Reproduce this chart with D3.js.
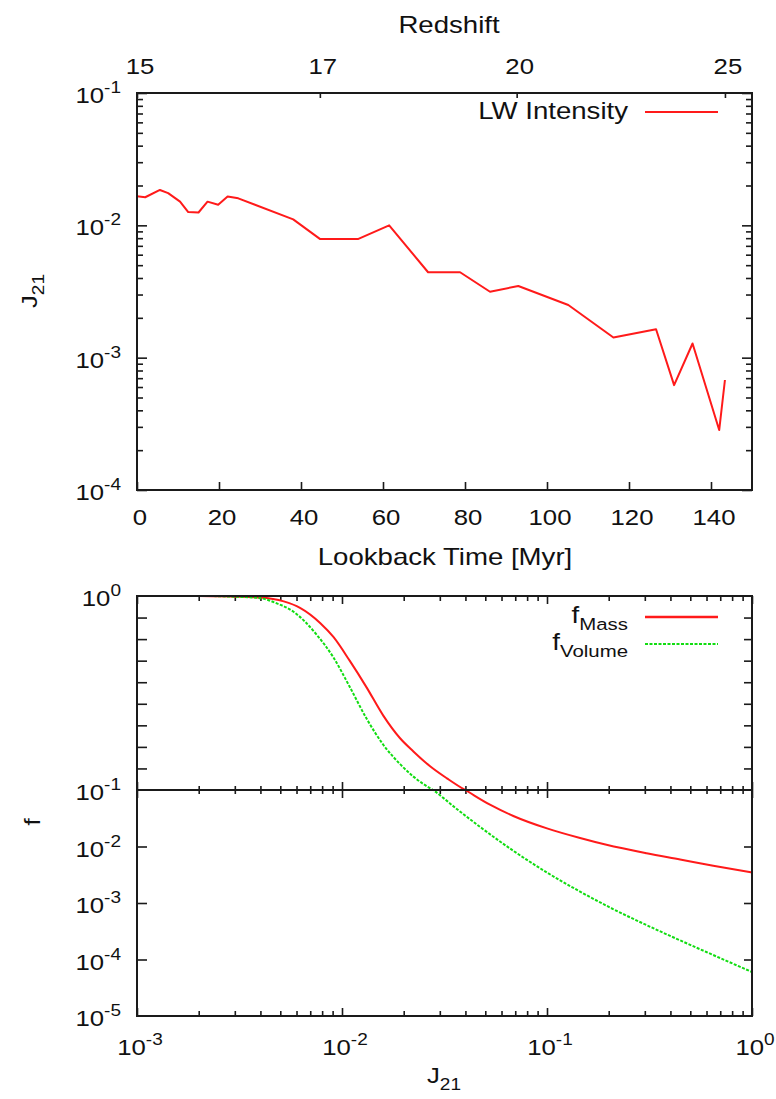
<!DOCTYPE html>
<html><head><meta charset="utf-8">
<script src="https://cdn.jsdelivr.net/npm/d3@7/dist/d3.min.js"></script>
<style>
body{margin:0;background:#fff;}
svg text{font-family:"Liberation Sans",Arial,Helvetica,sans-serif;fill:#111;}
</style></head><body>
<svg id="c" width="776" height="1099"></svg>
<script>
// ---------- data ----------
const lookbackTime = [0, 2, 5.6, 7.6, 10.5, 12.5, 15, 17.2, 19.8, 22.1, 24.7, 38.1, 44.6, 54, 61.5, 71, 78.8, 86.1, 93, 105.2, 116.2, 126.6, 131, 135.5, 142, 143.4];
const lwIntensity = [0.0166, 0.0163, 0.0185, 0.0175, 0.0151, 0.0126, 0.0125, 0.0151, 0.0143, 0.0165, 0.016, 0.0111, 0.0079, 0.0079, 0.0100, 0.00442, 0.00442, 0.00315, 0.00348, 0.0025, 0.00142, 0.00164, 0.00062, 0.00128, 0.000284, 0.000678];
const redshiftLabels = ["15", "17", "20", "25"];
const redshiftLookback = [0, 44.6, 92.6, 143.4];
const lookbackTicks = [0, 20, 40, 60, 80, 100, 120, 140];

const jMass = [0.001, 0.002, 0.00295, 0.00398, 0.0052, 0.00624, 0.00782, 0.00908, 0.0109, 0.0132, 0.0159, 0.0192, 0.0223, 0.0269, 0.0325, 0.0399, 0.0527, 0.0685, 0.1, 0.145, 0.195, 0.306, 0.446, 0.647, 1.0];
const fMass = [1, 1, 0.997, 0.993, 0.975, 0.945, 0.875, 0.81, 0.70, 0.575, 0.445, 0.34, 0.279, 0.21, 0.154, 0.1, 0.055, 0.0347, 0.0209, 0.0141, 0.0107, 0.00759, 0.00589, 0.00457, 0.00347];
const jVolume = [0.001, 0.002, 0.00295, 0.00398, 0.0048, 0.0058, 0.00753, 0.00908, 0.0109, 0.0132, 0.0159, 0.0192, 0.0223, 0.0278, 0.0363, 0.0471, 0.0685, 0.1, 0.145, 0.21, 0.306, 0.446, 0.647, 1.0];
const fVolume = [1, 1, 0.997, 0.99, 0.966, 0.927, 0.82, 0.715, 0.579, 0.43, 0.31, 0.22, 0.162, 0.1, 0.0461, 0.0223, 0.0084, 0.00346, 0.00159, 0.000782, 0.000406, 0.000218, 0.00012, 0.00006];

const topYTickExp = [-1, -2, -3, -4];
const upperFTicks = [0.2, 0.3, 0.4, 0.5, 0.6, 0.7, 0.8, 0.9];
const lowerFTickExp = [-2, -3, -4, -5];
const jTickExp = [-3, -2, -1, 0];

// ---------- setup ----------
const svg = d3.select("#c");
const FS = 23, AX = "#1a1a1a";

function label(x, y, parts, anchor, rotate, sx) {
  const g = svg.append("g").attr("transform", `translate(${x},${y})` + (rotate ? ` rotate(${rotate})` : "") + ` scale(${sx || 1.12},1)`);
  const t = g.append("text").attr("text-anchor", anchor || "middle").attr("font-size", FS);
  parts.forEach(p => {
    const s = t.append("tspan").text(p.t);
    if (p.sup) s.attr("font-size", 17).attr("dy", -10);
    if (p.sub) s.attr("font-size", 17).attr("dy", 7);
  });
  return t;
}
function pow10(e) { return [{t: "10"}, {t: String(e), sup: true}]; }
const WSX = 1.2; // word labels

// ===== Top panel =====
const L = 137, R = 752;
const tT = 93, tB = 490;
const xT = d3.scaleLinear().domain([0, 150]).range([L, R]);
const yT = d3.scaleLog().domain([1e-4, 1e-1]).range([tB, tT]);

const minorLog = (lo, hi) => { const a = []; for (let e = lo; e < hi; e++) for (let m = 2; m <= 9; m++) a.push(m * Math.pow(10, e)); return a; };
const decades = (lo, hi) => d3.range(lo, hi + 1).map(e => Math.pow(10, e));

function ticks(g, axisFn, scale, values, size) {
  g.call(axisFn(scale).tickValues(values).tickSize(size).tickFormat(""))
   .call(s => s.select(".domain").remove())
   .call(s => s.selectAll("line").attr("stroke", AX).attr("stroke-width", 1.6));
}
ticks(svg.append("g").attr("transform", `translate(${L},0)`), d3.axisLeft, yT, decades(-4, -1), -10);
ticks(svg.append("g").attr("transform", `translate(${L},0)`), d3.axisLeft, yT, minorLog(-4, -1), -6);
ticks(svg.append("g").attr("transform", `translate(${R},0)`), d3.axisRight, yT, decades(-4, -1), -10);
ticks(svg.append("g").attr("transform", `translate(${R},0)`), d3.axisRight, yT, minorLog(-4, -1), -6);
ticks(svg.append("g").attr("transform", `translate(0,${tB})`), d3.axisBottom, xT, lookbackTicks, -8);
ticks(svg.append("g").attr("transform", `translate(0,${tT})`), d3.axisTop, xT, redshiftLookback, -5);

svg.append("path")
  .datum(lookbackTime.map((t, i) => [t, lwIntensity[i]]))
  .attr("fill", "none").attr("stroke", "#ff1a1a").attr("stroke-width", 2)
  .attr("stroke-linejoin", "round")
  .attr("d", d3.line().x(d => xT(d[0])).y(d => yT(d[1])));

svg.append("rect").attr("x", L).attr("y", tT).attr("width", R - L).attr("height", tB - tT)
  .attr("fill", "none").attr("stroke", AX).attr("stroke-width", 2);

topYTickExp.forEach(e => label(121, yT(Math.pow(10, e)) + 10, pow10(e), "end"));
lookbackTicks.forEach(v => label(xT(v) + 3, 525, [{t: String(v)}], "middle"));
redshiftLookback.forEach((v, i) => label(xT(v) + 3, 74, [{t: redshiftLabels[i]}], "middle"));
label(449, 33, [{t: "Redshift"}], "middle", 0, WSX);
label(445, 565, [{t: "Lookback Time [Myr]"}], "middle", 0, WSX);
label(37, 291, [{t: "J"}, {t: "21", sub: true}], "middle", -90);
label(628, 119, [{t: "LW Intensity"}], "end", 0, WSX);
svg.append("line").attr("x1", 645).attr("x2", 718).attr("y1", 112).attr("y2", 112)
  .attr("stroke", "#ff1a1a").attr("stroke-width", 2);

// ===== Bottom panel =====
const bT = 596, bM = 790, bB = 1016;
const xB = d3.scaleLog().domain([1e-3, 1]).range([L, R]);
const yU = d3.scaleLinear().domain([0.1, 1]).range([bM, bT]);
const yLo = d3.scaleLog().domain([1e-5, 1e-1]).range([bB, bM]);

ticks(svg.append("g").attr("transform", `translate(0,${bT})`), d3.axisTop, xB, decades(-3, 0), -8);
ticks(svg.append("g").attr("transform", `translate(0,${bT})`), d3.axisTop, xB, minorLog(-3, 0), -5);
ticks(svg.append("g").attr("transform", `translate(0,${bM})`), d3.axisTop, xB, decades(-3, 0), 8);
ticks(svg.append("g").attr("transform", `translate(0,${bM})`), d3.axisTop, xB, minorLog(-3, 0), 4);
ticks(svg.append("g").attr("transform", `translate(0,${bM})`), d3.axisBottom, xB, decades(-3, 0), 8);
ticks(svg.append("g").attr("transform", `translate(0,${bM})`), d3.axisBottom, xB, minorLog(-3, 0), 4);
ticks(svg.append("g").attr("transform", `translate(0,${bB})`), d3.axisBottom, xB, decades(-3, 0), -8);
ticks(svg.append("g").attr("transform", `translate(0,${bB})`), d3.axisBottom, xB, minorLog(-3, 0), -5);
ticks(svg.append("g").attr("transform", `translate(${L},0)`), d3.axisLeft, yU, upperFTicks, -10);
ticks(svg.append("g").attr("transform", `translate(${R},0)`), d3.axisRight, yU, upperFTicks, -8);
ticks(svg.append("g").attr("transform", `translate(${L},0)`), d3.axisLeft, yLo, decades(-4, -2), -10);
ticks(svg.append("g").attr("transform", `translate(${R},0)`), d3.axisRight, yLo, decades(-4, -2), -8);

const defs = svg.append("defs");
defs.append("clipPath").attr("id", "cu").append("rect").attr("x", L).attr("y", bT).attr("width", R - L).attr("height", bM - bT);
defs.append("clipPath").attr("id", "cl").append("rect").attr("x", L).attr("y", bM).attr("width", R - L).attr("height", bB - bM);

const series = [
  {j: jMass, f: fMass, color: "#ff1a1a", dash: null},
  {j: jVolume, f: fVolume, color: "#11dd11", dash: "3,1.5"}
];
series.forEach(s => {
  const pts = s.j.map((j, i) => [j, s.f[i]]);
  [["cu", yU], ["cl", yLo]].forEach(([clip, ys]) => {
    svg.append("path").datum(pts).attr("clip-path", `url(#${clip})`)
      .attr("fill", "none").attr("stroke", s.color).attr("stroke-width", 2)
      .attr("stroke-dasharray", s.dash)
      .attr("d", d3.line().curve(d3.curveMonotoneX).x(d => xB(d[0])).y(d => ys(Math.max(d[1], 1e-9))));
  });
});

svg.append("rect").attr("x", L).attr("y", bT).attr("width", R - L).attr("height", bB - bT)
  .attr("fill", "none").attr("stroke", AX).attr("stroke-width", 2);
svg.append("line").attr("x1", L).attr("x2", R).attr("y1", bM).attr("y2", bM)
  .attr("stroke", AX).attr("stroke-width", 2);

label(121, bT + 10, pow10(0), "end");
label(121, bM + 10, pow10(-1), "end");
lowerFTickExp.forEach(e => label(121, yLo(Math.pow(10, e)) + 10, pow10(e), "end"));
jTickExp.forEach(e => label(xB(Math.pow(10, e)) + 3, 1055, pow10(e), "middle"));
label(444, 1083, [{t: "J"}, {t: "21", sub: true}], "middle");
label(40, 822, [{t: "f"}], "middle", -90);
label(628, 623, [{t: "f"}, {t: "Mass", sub: true}], "end", 0, WSX);
label(628, 650, [{t: "f"}, {t: "Volume", sub: true}], "end", 0, WSX);
svg.append("line").attr("x1", 645).attr("x2", 718).attr("y1", 617).attr("y2", 617)
  .attr("stroke", "#ff1a1a").attr("stroke-width", 2.5);
svg.append("line").attr("x1", 645).attr("x2", 718).attr("y1", 644).attr("y2", 644)
  .attr("stroke", "#11dd11").attr("stroke-width", 2).attr("stroke-dasharray", "3,1.5");
</script></body></html>
